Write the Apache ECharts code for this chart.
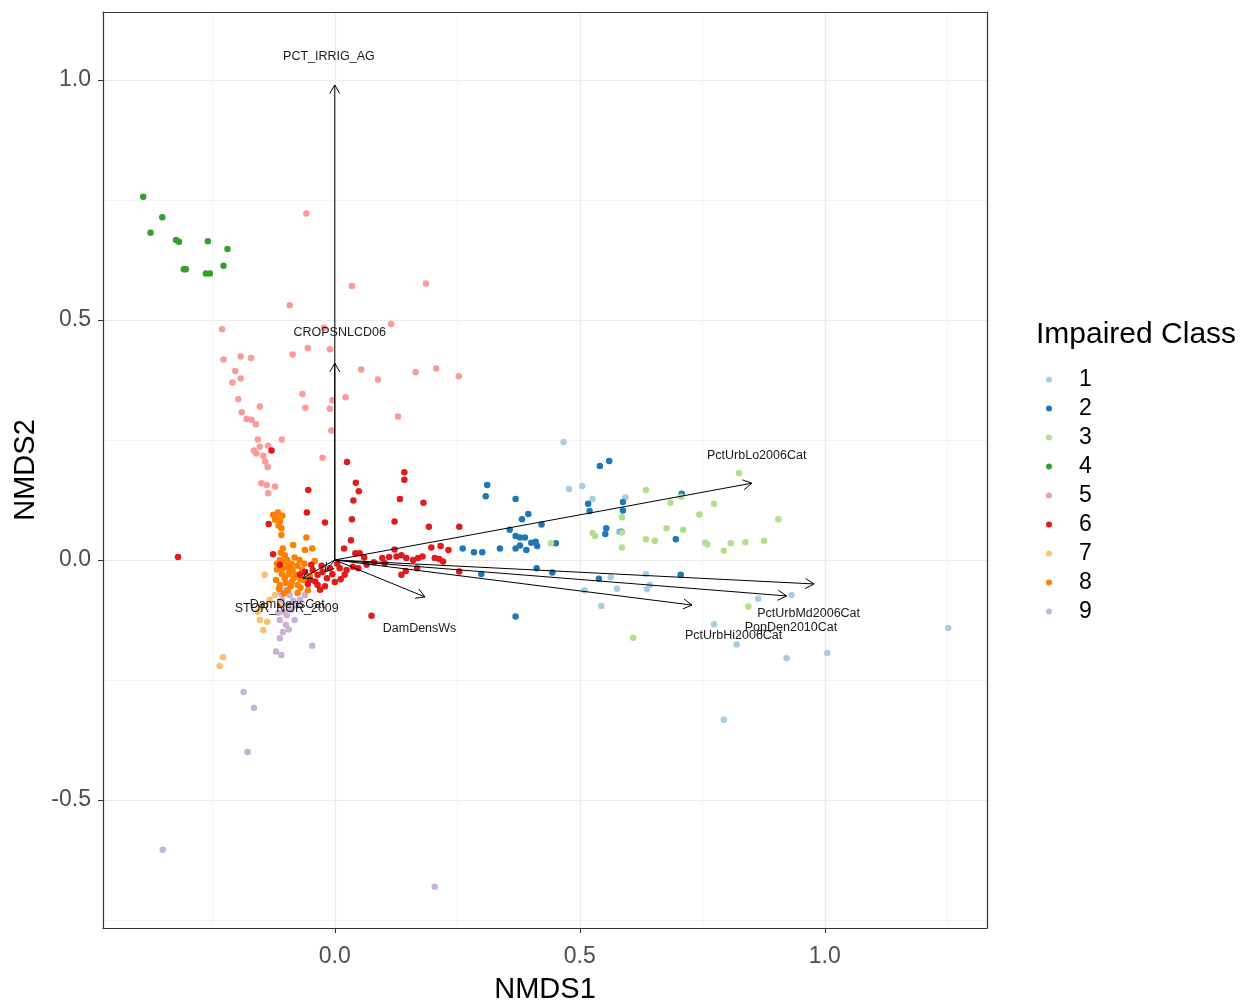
<!DOCTYPE html>
<html>
<head>
<meta charset="utf-8">
<script src="https://cdn.jsdelivr.net/npm/echarts@6/dist/echarts.min.js"></script>
<style>
  html, body { margin: 0; padding: 0; background: #fff; }
  #chart { width: 1255px; height: 1003px; }
</style>
</head>
<body>
<div id="chart"></div>
<script>
'use strict';

// site scores per impaired class, [NMDS1, NMDS2]
const class1 = [[0.467,0.246],[0.478,0.148],[0.505,0.154],[0.526,0.127],[0.593,0.130],[0.563,-0.036],[0.576,-0.060],
  [0.510,-0.063],[0.544,-0.096],[0.635,-0.029],[0.643,-0.052],[0.637,-0.061],[0.864,-0.081],[0.932,-0.073],[0.774,-0.134],
  [0.820,-0.176],[1.005,-0.194],[0.922,-0.205],[1.252,-0.142],[0.794,-0.333],[0.580,0.059]];
const class2 = [[0.311,0.156],[0.308,0.133],[0.369,0.127],[0.395,0.096],[0.382,0.085],[0.422,0.074],[0.357,0.063],
  [0.369,0.050],[0.378,0.047],[0.388,0.047],[0.401,0.036],[0.410,0.038],[0.413,0.029],[0.378,0.030],[0.369,0.024],
  [0.391,0.021],[0.337,0.024],[0.451,0.035],[0.261,0.024],[0.284,0.016],[0.301,0.016],[0.299,-0.029],[0.412,-0.017],
  [0.444,-0.026],[0.369,-0.118],[0.541,0.196],[0.560,0.206],[0.517,0.117],[0.520,0.102],[0.588,0.121],[0.588,0.103],
  [0.554,0.066],[0.552,0.054],[0.585,0.059],[0.696,0.043],[0.708,0.138],[0.539,-0.039],[0.706,-0.031]];
const class3 = [[0.635,0.146],[0.685,0.119],[0.707,0.132],[0.586,0.089],[0.526,0.056],[0.531,0.050],[0.586,0.057],
  [0.586,0.026],[0.635,0.043],[0.653,0.040],[0.677,0.066],[0.711,0.063],[0.441,0.035],[0.825,0.181],[0.774,0.117],
  [0.744,0.095],[0.905,0.085],[0.756,0.036],[0.760,0.033],[0.794,0.019],[0.808,0.035],[0.838,0.037],[0.876,0.040],
  [0.844,-0.097],[0.609,-0.162]];
const class4 = [[-0.391,0.757],[-0.352,0.714],[-0.376,0.682],[-0.324,0.667],[-0.318,0.663],[-0.259,0.664],[-0.219,0.648],
  [-0.308,0.606],[-0.304,0.606],[-0.263,0.597],[-0.255,0.597],[-0.227,0.613]];
const class5 = [[-0.058,0.722],[0.035,0.571],[0.186,0.576],[-0.092,0.531],[-0.230,0.481],[-0.022,0.484],[0.115,0.492],
  [-0.227,0.418],[-0.192,0.424],[-0.171,0.421],[-0.086,0.428],[-0.055,0.442],[-0.010,0.439],[0.054,0.397],[0.088,0.376],
  [0.165,0.391],[0.207,0.399],[0.253,0.383],[-0.203,0.394],[-0.192,0.378],[-0.209,0.370],[-0.066,0.346],[-0.005,0.333],
  [0.022,0.339],[-0.197,0.335],[-0.060,0.317],[-0.010,0.315],[-0.153,0.320],[0.129,0.299],[-0.190,0.308],[-0.180,0.294],
  [-0.170,0.292],[-0.161,0.283],[-0.007,0.270],[-0.157,0.251],[-0.108,0.251],[-0.165,0.228],[-0.153,0.236],[-0.136,0.238],
  [-0.146,0.217],[-0.025,0.213],[-0.137,0.194],[-0.150,0.160],[-0.139,0.156],[-0.122,0.153],[-0.136,0.139],[-0.160,0.222],
  [-0.142,0.205]];
const class6 = [[-0.129,0.228],[0.025,0.204],[-0.054,0.146],[0.043,0.161],[0.049,0.143],[0.038,0.124],[0.142,0.183],
  [0.142,0.167],[0.133,0.127],[0.181,0.119],[-0.057,0.099],[-0.020,0.078],[0.035,0.085],[0.122,0.080],[0.192,0.069],
  [0.254,0.069],[0.033,0.041],[0.019,0.024],[0.042,0.014],[0.051,0.014],[0.122,0.022],[0.197,0.026],[0.216,0.029],
  [0.232,0.021],[0.097,0.004],[0.111,0.006],[0.126,0.007],[0.136,0.010],[0.146,0.004],[0.160,0.000],[0.170,0.004],
  [0.179,0.007],[0.204,0.004],[0.213,0.002],[0.221,-0.003],[0.168,-0.017],[0.136,-0.031],[0.145,-0.023],[0.254,-0.024],
  [0.102,-0.007],[0.037,-0.014],[0.048,-0.017],[0.024,-0.021],[-0.320,0.006],[-0.135,0.075],[-0.126,0.012],[0.075,-0.116],
  [-0.045,-0.021],[-0.035,-0.031],[-0.027,-0.012],[-0.051,-0.042],[-0.016,-0.038],[-0.010,-0.017],[-0.061,-0.025],
  [-0.035,-0.052],[0.010,-0.017],[0.020,-0.031],[0.000,-0.046],[-0.071,-0.031],[-0.112,-0.010],[0.065,-0.010],
  [0.080,-0.005],[0.060,0.005],[0.005,-0.008],[-0.020,-0.055],[-0.005,-0.030],[-0.040,-0.045],[-0.025,-0.025],
  [-0.055,-0.050],[-0.030,-0.062],[0.012,-0.040],[-0.048,-0.010]];
const class7 = [[-0.143,-0.031],[-0.122,-0.073],[-0.133,-0.083],[-0.153,-0.125],[-0.138,-0.129],[-0.146,-0.146],
  [-0.157,-0.108],[-0.228,-0.203],[-0.235,-0.221],[-0.112,-0.094],[-0.150,-0.098]];
const class8 = [[-0.126,0.094],[-0.116,0.099],[-0.107,0.092],[-0.119,0.087],[-0.112,0.080],[-0.109,0.066],[-0.109,0.052],
  [-0.058,0.047],[-0.085,0.031],[-0.061,0.021],[-0.046,0.024],[-0.106,0.024],[-0.102,0.010],[-0.112,0.000],[-0.100,-0.004],
  [-0.088,-0.008],[-0.076,-0.012],[-0.106,-0.017],[-0.092,-0.025],[-0.080,-0.031],[-0.067,-0.021],[-0.102,-0.038],
  [-0.088,-0.046],[-0.076,-0.052],[-0.063,-0.042],[-0.112,-0.052],[-0.096,-0.063],[-0.055,-0.063],[-0.076,-0.069],
  [-0.051,-0.033],[-0.041,-0.002],[-0.108,-0.029],[-0.120,-0.042],[-0.115,0.072],[-0.122,0.084],[-0.095,-0.015],
  [-0.084,-0.038],[-0.070,-0.058],[-0.118,-0.020],[-0.097,0.000],[-0.062,-0.008],[-0.090,-0.055],[-0.110,0.015],
  [-0.082,0.005],[-0.072,0.000],[-0.114,-0.060],[-0.100,-0.048],[-0.086,-0.020],[-0.070,-0.040],[-0.094,-0.030],
  [-0.118,-0.008],[-0.104,-0.070]];
const class9 = [[-0.102,-0.063],[-0.092,-0.073],[-0.108,-0.083],[-0.096,-0.094],[-0.104,-0.108],[-0.088,-0.104],
  [-0.112,-0.125],[-0.100,-0.135],[-0.106,-0.150],[-0.112,-0.163],[-0.082,-0.125],[-0.071,-0.083],[-0.061,-0.073],
  [-0.046,-0.179],[-0.120,-0.191],[-0.109,-0.198],[-0.186,-0.275],[-0.165,-0.308],[-0.178,-0.400],[-0.351,-0.604],
  [0.204,-0.681],[-0.098,-0.115],[-0.094,-0.145],[-0.085,-0.085],[-0.078,-0.095],[-0.110,-0.070],[-0.115,-0.110]];

const classNames = ['1', '2', '3', '4', '5', '6', '7', '8', '9'];
const classColors = ['#a6cee3', '#1f78b4', '#b2df8a', '#33a02c', '#fb9a99', '#e31a1c', '#fdbf6f', '#ff7f00', '#cab2d6'];
const classData = [class1, class2, class3, class4, class5, class6, class7, class8, class9];
// drawing order (last on top)
const drawOrder = [0, 1, 2, 3, 4, 8, 6, 7, 5];

// fitted environmental vectors
const vecNames = ['PCT_IRRIG_AG', 'CROPSNLCD06', 'PctUrbLo2006Cat', 'PctUrbMd2006Cat', 'PopDen2010Cat',
  'PctUrbHi2006Cat', 'DamDensWs', 'DamDensCat', 'STOR_NOR_2009'];
const vecX = [0.0, 0.0, 0.851, 0.978, 0.922, 0.729, 0.184, -0.065, -0.020];
const vecY = [0.99, 0.41, 0.160, -0.050, -0.075, -0.094, -0.077, -0.038, -0.025];
const labX = [-0.012, 0.010, 0.861, 0.967, 0.931, 0.814, 0.173, -0.097, -0.098];
const labY = [1.050, 0.473, 0.217, -0.112, -0.140, -0.158, -0.142, -0.092, -0.102];

const FONT = "'Liberation Sans', Arial, sans-serif";
const X_MIN = -0.473, X_MAX = 1.331, Y_MIN = -0.767, Y_MAX = 1.142;
const chart = echarts.init(document.getElementById('chart'));

const pointSeries = drawOrder.map((i) => ({
  name: classNames[i],
  type: 'scatter',
  data: classData[i],
  symbol: 'circle',
  symbolSize: 6.5,
  itemStyle: {color: classColors[i], opacity: 1},
  emphasis: {disabled: true}
}));

const arrowSeries = {
  type: 'custom',
  coordinateSystem: 'cartesian2d',
  data: vecNames.map((n, i) => [vecX[i], vecY[i], i]),
  encode: {x: 0, y: 1},
  z: 5,
  silent: true,
  renderItem: function(params, api) {
    const o = api.coord([0, 0]);
    const e = api.coord([api.value(0), api.value(1)]);
    const ang = Math.atan2(e[1] - o[1], e[0] - o[0]);
    const len = 10;
    const spread = Math.PI / 6;
    const h1 = [e[0] - len * Math.cos(ang - spread), e[1] - len * Math.sin(ang - spread)];
    const h2 = [e[0] - len * Math.cos(ang + spread), e[1] - len * Math.sin(ang + spread)];
    return {
      type: 'group',
      children: [
        {type: 'line', shape: {x1: o[0], y1: o[1], x2: e[0], y2: e[1]}, style: {stroke: '#000', lineWidth: 1}},
        {type: 'polyline', shape: {points: [h1, e, h2]}, style: {stroke: '#000', lineWidth: 1, fill: null}}
      ]
    };
  }
};

const labelSeries = {
  type: 'custom',
  coordinateSystem: 'cartesian2d',
  data: vecNames.map((n, i) => [labX[i], labY[i], i]),
  encode: {x: 0, y: 1},
  z: 6,
  silent: true,
  renderItem: function(params, api) {
    const p = api.coord([api.value(0), api.value(1)]);
    return {
      type: 'text',
      x: p[0],
      y: p[1],
      style: {
        text: vecNames[api.value(2)],
        align: 'center',
        verticalAlign: 'middle',
        fontSize: 12.5,
        fontFamily: FONT,
        fill: '#1a1a1a'
      }
    };
  }
};

const axisCommon = {
  type: 'value',
  splitNumber: 4,
  axisLine: {show: true, onZero: false, lineStyle: {color: '#333', width: 1.2}},
  axisTick: {show: true, length: 5, lineStyle: {color: '#333', width: 1}},
  axisLabel: {
    fontSize: 23, color: '#4d4d4d', fontFamily: FONT,
    showMinLabel: false, showMaxLabel: false,
    formatter: (v) => v.toFixed(1)
  },
  splitLine: {show: true, lineStyle: {color: '#ebebeb', width: 1.2}},
  minorTick: {show: false, splitNumber: 2},
  minorSplitLine: {show: true, lineStyle: {color: '#f2f2f2', width: 1}},
  nameLocation: 'middle',
  nameTextStyle: {fontSize: 29, color: '#000', fontFamily: FONT}
};

// frame-only axes on top and right
const frameAxis = {
  type: 'value',
  axisLine: {show: true, onZero: false, lineStyle: {color: '#333', width: 1.2}},
  axisTick: {show: false},
  axisLabel: {show: false},
  splitLine: {show: false}
};

chart.setOption({
  animation: false,
  backgroundColor: '#fff',
  title: {
    text: 'Impaired Class',
    left: 1031,
    top: 315,
    textStyle: {fontSize: 30, fontWeight: 'normal', color: '#000', fontFamily: FONT}
  },
  legend: {
    orient: 'vertical',
    left: 1041,
    top: 363,
    data: classNames,
    icon: 'circle',
    itemWidth: 50,
    itemHeight: 6,
    itemGap: 6,
    selectedMode: false,
    textStyle: {fontSize: 23, lineHeight: 23, color: '#000', fontFamily: FONT}
  },
  grid: {
    left: 103, right: 268, top: 12, bottom: 75,
    show: false,
    containLabel: false,
    outerBoundsMode: 'none'
  },
  xAxis: [
    Object.assign({}, axisCommon, {
      min: X_MIN, max: X_MAX,
      name: 'NMDS1', nameGap: 47,
      axisLabel: Object.assign({}, axisCommon.axisLabel, {margin: 17})
    }),
    Object.assign({}, frameAxis, {position: 'top', min: X_MIN, max: X_MAX})
  ],
  yAxis: [
    Object.assign({}, axisCommon, {
      min: Y_MIN, max: Y_MAX,
      name: 'NMDS2', nameGap: 63,
      axisLabel: Object.assign({}, axisCommon.axisLabel, {margin: 12})
    }),
    Object.assign({}, frameAxis, {position: 'right', min: Y_MIN, max: Y_MAX})
  ],
  series: pointSeries.concat([arrowSeries, labelSeries])
});
</script>
</body>
</html>
